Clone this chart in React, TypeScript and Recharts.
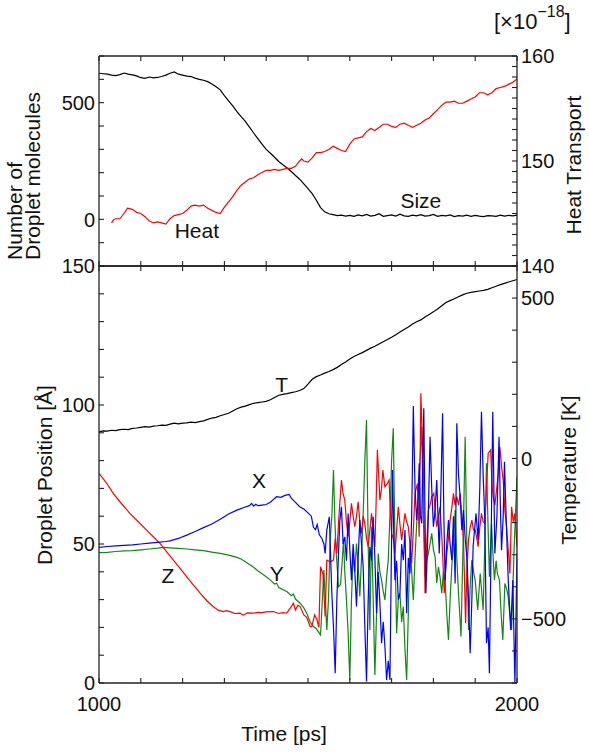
import React from "react";
import { LineChart, Line, XAxis, YAxis, ReferenceDot, Label } from "recharts";

const W = 589;
const H = 755;
const FONT = "'Liberation Sans', Arial, sans-serif";
const TICK_FONT = 20;
const TITLE_FONT = 21;
const AXIS = "#222";

// axis ticks
const timeTicks = [1000, 1100, 1200, 1300, 1400, 1500, 1600, 1700, 1800, 1900, 2000];
const timeLabels = [1000, 2000];
const sizeTicks = [-200, -100, 0, 100, 200, 300, 400, 500, 600, 700];
const sizeLabels = [0, 500];
const heatTicks = [140, 141, 142, 143, 144, 145, 146, 147, 148, 149, 150, 151, 152, 153, 154, 155, 156, 157, 158, 159, 160];
const heatLabels = [140, 150, 160];
const posTicks = [0, 10, 20, 30, 40, 50, 60, 70, 80, 90, 100, 110, 120, 130, 140, 150];
const posLabels = [0, 50, 100, 150];
const tempTicks = [-700, -600, -500, -400, -300, -200, -100, 0, 100, 200, 300, 400, 500, 600];
const tempLabels = [-500, 0, 500];

// droplet size [molecules] vs time [ps]
const sizeSeries: [number, number][] = [
  [1000, 626], [1010, 624], [1020, 622], [1030, 618], [1040, 616], [1050, 620], [1060, 627], [1070, 622],
  [1080, 619], [1090, 615], [1100, 607], [1110, 604], [1120, 610], [1130, 606], [1140, 608], [1150, 612],
  [1160, 618], [1170, 626], [1180, 632], [1190, 622], [1200, 618], [1210, 614], [1220, 612], [1230, 605],
  [1240, 600], [1250, 596], [1260, 590], [1270, 580], [1280, 568], [1290, 555], [1300, 530], [1310, 508],
  [1320, 486], [1330, 462], [1340, 440], [1350, 420], [1360, 395], [1370, 370], [1380, 346], [1390, 322],
  [1400, 300], [1410, 283], [1420, 266], [1430, 248], [1440, 234], [1450, 220], [1460, 205], [1470, 188],
  [1480, 172], [1490, 152], [1500, 132], [1510, 110], [1520, 82], [1530, 50], [1540, 32], [1550, 24],
  [1560, 20], [1570, 16], [1580, 18], [1590, 14], [1600, 17], [1610, 13], [1620, 19], [1630, 15],
  [1640, 21], [1650, 14], [1660, 17], [1670, 24], [1680, 13], [1690, 16], [1700, 19], [1710, 14],
  [1720, 22], [1730, 15], [1740, 13], [1750, 18], [1760, 15], [1770, 20], [1780, 14], [1790, 16],
  [1800, 21], [1810, 13], [1820, 17], [1830, 15], [1840, 19], [1850, 12], [1860, 16], [1870, 14],
  [1880, 18], [1890, 13], [1900, 17], [1910, 14], [1920, 12], [1930, 16], [1940, 15], [1950, 13],
  [1960, 18], [1970, 14], [1980, 17], [1990, 15], [2000, 18],
];

// heat transport [x1e-18]
const heatSeries: [number, number][] = [
  [1030, 144.1], [1035, 144.4], [1040, 144.5], [1050, 144.5], [1060, 145.0], [1068, 145.5], [1080, 145.4],
  [1090, 145.1], [1100, 145.0], [1110, 144.7], [1120, 144.3], [1130, 144.1], [1140, 144.2], [1150, 144.1],
  [1160, 144.0], [1170, 144.5], [1180, 144.8], [1190, 144.9], [1200, 145.0], [1210, 145.3], [1220, 145.7],
  [1230, 145.8], [1240, 145.7], [1250, 145.8], [1260, 145.5], [1270, 145.3], [1280, 145.1], [1290, 145.0],
  [1300, 145.6], [1310, 146.1], [1320, 146.6], [1330, 147.2], [1340, 147.7], [1350, 148.0], [1360, 148.3],
  [1370, 148.4], [1380, 148.7], [1390, 148.9], [1400, 149.1], [1410, 149.1], [1420, 149.2], [1430, 149.1],
  [1440, 149.2], [1450, 149.3], [1460, 149.3], [1470, 149.5], [1480, 150.0], [1485, 150.2], [1490, 150.0],
  [1500, 149.9], [1510, 150.3], [1520, 150.8], [1530, 150.8], [1540, 150.9], [1550, 151.1], [1560, 151.4],
  [1570, 151.2], [1580, 151.0], [1590, 150.9], [1600, 151.6], [1610, 152.1], [1620, 152.2], [1630, 152.3],
  [1640, 152.8], [1650, 153.1], [1660, 152.9], [1670, 153.2], [1680, 153.5], [1690, 153.5], [1700, 153.3],
  [1710, 153.2], [1720, 153.5], [1730, 153.6], [1740, 153.4], [1750, 153.2], [1760, 153.4], [1770, 153.6],
  [1780, 153.9], [1790, 154.1], [1800, 154.5], [1810, 154.9], [1820, 155.3], [1830, 155.6], [1840, 155.6],
  [1850, 155.7], [1860, 155.5], [1870, 155.5], [1880, 155.7], [1890, 155.9], [1900, 156.1], [1910, 156.5],
  [1920, 156.5], [1930, 156.3], [1940, 156.5], [1950, 156.9], [1960, 157.0], [1970, 157.1], [1980, 157.3],
  [1990, 157.5], [2000, 157.8],
];

// temperature [K]
const tempSeries: [number, number][] = [
  [1000, 83], [1010, 86], [1020, 85], [1030, 88], [1040, 87], [1050, 90], [1060, 91], [1070, 90],
  [1080, 94], [1090, 95], [1100, 97], [1110, 99], [1120, 98], [1130, 101], [1140, 102], [1150, 104],
  [1160, 103], [1170, 107], [1180, 110], [1190, 108], [1200, 110], [1210, 111], [1220, 113], [1230, 112],
  [1240, 115], [1250, 117], [1260, 122], [1270, 126], [1280, 128], [1290, 133], [1300, 137], [1310, 141],
  [1320, 148], [1330, 155], [1340, 160], [1350, 163], [1360, 168], [1370, 172], [1380, 174], [1390, 176],
  [1400, 178], [1410, 183], [1420, 190], [1430, 197], [1440, 200], [1450, 202], [1460, 205], [1470, 208],
  [1480, 212], [1490, 218], [1500, 232], [1510, 247], [1520, 255], [1530, 260], [1540, 266], [1550, 271],
  [1560, 277], [1570, 284], [1580, 293], [1590, 301], [1600, 310], [1610, 318], [1620, 324], [1630, 330],
  [1640, 337], [1650, 344], [1660, 350], [1670, 357], [1680, 364], [1690, 371], [1700, 378], [1710, 386],
  [1720, 394], [1730, 402], [1740, 410], [1750, 419], [1760, 426], [1770, 432], [1780, 441], [1790, 449],
  [1800, 457], [1810, 466], [1820, 476], [1830, 486], [1840, 492], [1850, 498], [1860, 504], [1870, 510],
  [1880, 515], [1890, 518], [1900, 520], [1910, 522], [1920, 524], [1930, 527], [1940, 532], [1950, 537],
  [1960, 542], [1970, 546], [1980, 550], [1990, 554], [2000, 558],
];

// droplet centre of mass [Å]
const xSeries: [number, number][] = [
  [1000, 48.8], [1020, 49.1], [1040, 49.3], [1060, 49.5], [1080, 49.7], [1100, 50.0], [1120, 50.3], [1140, 50.6],
  [1160, 50.9], [1170, 51.1], [1190, 52.0], [1210, 53.2], [1230, 54.5], [1250, 55.9], [1270, 57.2], [1290, 58.9],
  [1310, 60.8], [1330, 62.2], [1350, 63.3], [1360, 63.8], [1365, 64.6], [1370, 63.6], [1375, 64.3], [1380, 63.8],
  [1390, 64.0], [1400, 64.2], [1410, 65.0], [1420, 66.4], [1425, 67.0], [1435, 66.8], [1445, 67.5], [1455, 67.8],
  [1460, 66.5], [1470, 65.0], [1480, 63.4], [1490, 62.6], [1500, 61.2], [1508, 60.0], [1513, 56.0], [1518, 55.2],
  [1522, 57.0], [1527, 53.4], [1533, 52.0], [1538, 50.0], [1541, 46.6], [1545, 55.0], [1551, 59.8], [1557, 32.3],
  [1561, 20.0], [1565, 3.5], [1569, 30.0], [1573, 46.6], [1576, 58.0], [1580, 63.4], [1584, 50.0], [1588, 52.6],
  [1592, 44.0], [1596, 61.0], [1600, 48.0], [1604, 37.0], [1608, 50.0], [1612, 40.0], [1616, 27.5], [1620, 45.0],
  [1624, 58.6], [1628, 50.0], [1632, 41.8], [1636, 20.0], [1640, 0.5], [1644, 30.0], [1648, 49.0], [1652, 44.0],
  [1656, 59.8], [1660, 45.0], [1664, 25.1], [1668, 40.0], [1672, 28.7], [1676, 14.3], [1680, 22.0], [1684, 13.1],
  [1688, 1.1], [1692, 8.0], [1696, 1.1], [1699, 40.0], [1702, 76.6], [1705, 55.0], [1708, 37.0], [1712, 44.0],
  [1716, 30.0], [1720, 32.3], [1724, 50.0], [1728, 44.2], [1732, 55.0], [1736, 25.1], [1740, 45.0], [1744, 39.4],
  [1748, 60.0], [1752, 99.6], [1756, 70.0], [1760, 58.6], [1763, 65.0], [1766, 79.0], [1769, 60.0], [1772, 57.4],
  [1777, 98.8], [1782, 32.3], [1787, 55.0], [1792, 88.6], [1796, 70.0], [1800, 56.2], [1804, 62.0], [1808, 73.0],
  [1811, 60.0], [1814, 46.6], [1818, 70.0], [1822, 97.0], [1825, 60.0], [1828, 37.0], [1832, 50.0], [1836, 58.6],
  [1840, 50.0], [1844, 44.2], [1848, 60.0], [1852, 35.8], [1856, 93.4], [1860, 75.0], [1864, 67.0], [1868, 55.0],
  [1872, 62.2], [1876, 52.0], [1880, 45.4], [1884, 30.0], [1888, 10.7], [1892, 30.0], [1895, 49.0], [1899, 56.0],
  [1902, 61.0], [1907, 51.4], [1911, 70.0], [1915, 97.6], [1919, 75.0], [1923, 58.6], [1927, 14.3], [1931, 20.0],
  [1934, 3.5], [1938, 50.0], [1942, 97.6], [1947, 46.6], [1952, 60.0], [1957, 88.6], [1960, 65.0], [1963, 47.8],
  [1967, 60.0], [1970, 79.6], [1975, 55.0], [1979, 37.0], [1985, 19.1], [1990, 37.0], [1995, 0.0], [2000, 46.6],
];

const ySeries: [number, number][] = [
  [1000, 46.9], [1020, 47.0], [1040, 47.3], [1060, 47.5], [1080, 47.6], [1100, 47.9], [1120, 48.2], [1140, 48.5],
  [1155, 48.8], [1170, 48.6], [1190, 48.4], [1210, 48.2], [1230, 47.9], [1250, 47.6], [1270, 47.1], [1290, 46.6],
  [1310, 46.0], [1330, 45.2], [1340, 44.6], [1350, 43.6], [1360, 42.6], [1370, 41.6], [1380, 40.4], [1390, 39.3],
  [1400, 38.2], [1410, 37.0], [1420, 35.6], [1425, 35.9], [1430, 34.3], [1440, 33.6], [1450, 32.8], [1460, 31.4],
  [1465, 32.0], [1470, 30.2], [1481, 28.7], [1490, 27.0], [1497, 25.1], [1505, 22.0], [1513, 20.3], [1520, 19.5],
  [1530, 17.3], [1538, 40.6], [1545, 19.1], [1549, 30.0], [1553, 51.4], [1557, 60.0], [1561, 76.6], [1564, 60.0],
  [1567, 48.0], [1573, 34.6], [1578, 35.5], [1581, 42.0], [1585, 51.4], [1588, 40.0], [1592, 29.9], [1596, 18.0],
  [1600, 1.1], [1604, 30.0], [1608, 46.6], [1612, 40.0], [1616, 50.2], [1620, 42.0], [1624, 31.1], [1628, 45.0],
  [1632, 61.0], [1636, 80.0], [1640, 94.6], [1644, 50.0], [1648, 19.1], [1652, 56.2], [1656, 30.0], [1660, 2.9],
  [1664, 25.0], [1668, 46.6], [1672, 40.0], [1676, 37.0], [1680, 33.0], [1684, 29.9], [1688, 38.0], [1692, 44.2],
  [1696, 60.0], [1700, 80.0], [1704, 91.6], [1708, 50.0], [1712, 17.9], [1716, 30.0], [1720, 32.3], [1724, 22.0],
  [1728, 27.5], [1732, 12.0], [1736, 1.1], [1740, 25.0], [1744, 51.4], [1748, 40.0], [1752, 29.9], [1756, 45.0],
  [1760, 57.4], [1766, 74.2], [1772, 92.2], [1776, 60.0], [1780, 38.2], [1784, 44.0], [1788, 46.6], [1792, 50.0],
  [1796, 53.8], [1800, 48.0], [1804, 45.4], [1808, 36.0], [1812, 41.8], [1816, 38.0], [1820, 32.3], [1824, 40.0],
  [1828, 37.0], [1832, 25.0], [1836, 15.5], [1840, 30.0], [1844, 41.8], [1848, 50.0], [1852, 62.2], [1856, 45.0],
  [1860, 32.3], [1863, 25.0], [1866, 16.7], [1871, 50.0], [1876, 88.6], [1880, 50.0], [1884, 19.1], [1888, 35.0],
  [1892, 44.2], [1896, 40.0], [1900, 37.0], [1906, 26.3], [1912, 39.4], [1919, 26.3], [1923, 50.0], [1927, 79.0],
  [1931, 55.0], [1934, 38.2], [1939, 57.4], [1943, 45.0], [1946, 37.0], [1950, 44.0], [1953, 39.4], [1958, 37.0],
  [1962, 25.0], [1966, 15.5], [1971, 35.8], [1975, 34.0], [1979, 31.1], [1983, 24.0], [1987, 19.1], [1993, 47.8],
  [2000, 74.2],
];

const zSeries: [number, number][] = [
  [1000, 75.4], [1010, 73.5], [1020, 71.5], [1034, 68.2], [1050, 65.2], [1074, 61.0], [1094, 58.0], [1114, 55.0],
  [1130, 52.6], [1146, 50.2], [1162, 47.2], [1178, 44.2], [1194, 41.2], [1210, 38.2], [1226, 35.2], [1242, 32.3],
  [1258, 29.6], [1273, 27.5], [1285, 26.2], [1297, 25.7], [1305, 26.0], [1315, 25.6], [1325, 25.0], [1337, 25.1],
  [1345, 24.4], [1355, 25.2], [1369, 25.1], [1380, 25.4], [1390, 25.3], [1400, 25.6], [1417, 25.7], [1430, 25.0],
  [1440, 25.3], [1449, 25.1], [1458, 27.0], [1465, 28.7], [1470, 26.3], [1476, 28.0], [1481, 27.5], [1490, 24.5],
  [1497, 23.6], [1505, 20.3], [1509, 20.3], [1516, 24.5], [1521, 23.0], [1526, 20.0], [1530, 41.8], [1536, 39.0],
  [1541, 23.9], [1545, 44.2], [1553, 43.6], [1561, 44.2], [1565, 52.0], [1569, 46.6], [1574, 60.0], [1580, 73.0],
  [1584, 68.0], [1588, 65.8], [1592, 58.0], [1596, 52.6], [1600, 58.0], [1604, 64.6], [1608, 60.0], [1612, 56.2],
  [1616, 60.0], [1620, 65.2], [1624, 58.0], [1628, 53.8], [1632, 60.0], [1636, 57.4], [1640, 52.0], [1644, 49.0],
  [1648, 55.0], [1652, 61.0], [1656, 55.0], [1660, 49.0], [1663, 65.0], [1666, 83.8], [1669, 75.0], [1672, 65.8],
  [1676, 70.0], [1679, 76.6], [1684, 70.6], [1690, 71.8], [1694, 73.0], [1697, 62.0], [1700, 53.8], [1704, 52.0],
  [1708, 46.6], [1712, 55.0], [1716, 63.4], [1720, 57.0], [1724, 51.4], [1728, 56.0], [1732, 61.0], [1736, 58.0],
  [1740, 56.2], [1744, 50.0], [1748, 43.0], [1752, 55.0], [1756, 68.2], [1762, 71.8], [1766, 52.6], [1770, 104.2],
  [1773, 90.0], [1776, 75.4], [1780, 32.3], [1784, 50.0], [1788, 62.2], [1792, 64.0], [1796, 67.0], [1801, 68.2],
  [1804, 62.0], [1808, 56.2], [1812, 60.0], [1816, 63.4], [1821, 50.0], [1826, 32.3], [1829, 40.0], [1832, 46.6],
  [1836, 52.0], [1840, 58.6], [1844, 63.0], [1848, 68.2], [1852, 64.0], [1856, 67.0], [1860, 64.0], [1864, 68.2],
  [1868, 60.0], [1872, 51.4], [1877, 21.5], [1880, 40.0], [1884, 51.4], [1888, 56.0], [1892, 58.6], [1896, 55.0],
  [1900, 55.0], [1904, 52.0], [1907, 49.0], [1911, 56.0], [1915, 61.0], [1919, 58.0], [1923, 57.4], [1927, 70.0],
  [1931, 82.6], [1937, 83.8], [1940, 72.0], [1943, 67.0], [1947, 64.0], [1951, 69.4], [1955, 75.0], [1959, 85.0],
  [1963, 78.0], [1967, 73.0], [1971, 62.0], [1975, 56.2], [1979, 48.0], [1983, 39.4], [1987, 63.4], [1991, 58.0],
  [1995, 61.0], [2000, 49.0],
];

const rows = (pts: [number, number][]) => pts.map(([t, v]) => ({ t, v }));

const fmt = (v: number) => (v < 0 ? `\u2212${Math.abs(v)}` : `${v}`);

// tick text only on the labelled values, minor ticks keep just their line
const sideTick = (labels: number[], anchor: "start" | "end") => (props: any) => {
  const { x, y, payload } = props;
  if (!labels.includes(payload.value)) return <g />;
  return (
    <text x={x} y={y} dy="0.36em" textAnchor={anchor} fontSize={TICK_FONT} fontFamily={FONT} fill="#111">
      {fmt(payload.value)}
    </text>
  );
};

const bottomTick = (labels: number[]) => (props: any) => {
  const { x, y, payload } = props;
  if (!labels.includes(payload.value)) return <g />;
  return (
    <text x={x} y={y} dy="0.36em" textAnchor="middle" fontSize={TICK_FONT} fontFamily={FONT} fill="#111">
      {payload.value}
    </text>
  );
};

const noTick = () => <g />;

const axisLine = { stroke: AXIS, strokeWidth: 1.3 };
const tickLine = { stroke: AXIS, strokeWidth: 1.1 };

const tag = (text: string) => (
  <Label value={text} position="center" fontSize={TITLE_FONT} fontFamily={FONT} fill="#111" />
);

export default function App() {
  return (
    <div style={{ position: "absolute", left: 0, top: 0, width: W, height: H, background: "#fff" }}>
      {/* upper panel: droplet size and heat transport */}
      <div style={{ position: "absolute", left: 0, top: 0 }}>
        <LineChart width={W} height={H} margin={{ top: 46, right: 0, bottom: H - 276, left: 0 }}>
          <XAxis xAxisId="time" type="number" dataKey="t" domain={[1000, 2000]} ticks={timeTicks} interval={0}
            allowDataOverflow height={10} tickSize={-5} tick={noTick} axisLine={axisLine} tickLine={tickLine} />
          <XAxis xAxisId="top" orientation="top" type="number" dataKey="t" domain={[1000, 2000]} ticks={timeTicks}
            interval={0} allowDataOverflow height={10} tickSize={-5} tick={noTick} axisLine={axisLine} tickLine={tickLine} />
          <YAxis yAxisId="size" type="number" domain={[-200, 700]} ticks={sizeTicks} interval={0} width={99}
            tickSize={-5} tickMargin={9} tick={sideTick(sizeLabels, "end")} axisLine={axisLine} tickLine={tickLine} />
          <YAxis yAxisId="heat" orientation="right" type="number" domain={[140, 160]} ticks={heatTicks} interval={0}
            width={72} tickSize={-5} tickMargin={9} tick={sideTick(heatLabels, "start")} axisLine={axisLine} tickLine={tickLine} />
          <Line xAxisId="time" yAxisId="size" data={rows(sizeSeries)} dataKey="v" stroke="#000" strokeWidth={1.2}
            dot={false} isAnimationActive={false} />
          <Line xAxisId="time" yAxisId="heat" data={rows(heatSeries)} dataKey="v" stroke="#ff0000" strokeWidth={1.2}
            dot={false} isAnimationActive={false} />
          <ReferenceDot xAxisId="time" yAxisId="size" x={1234} y={-49} r={0} fill="none" stroke="none">{tag("Heat")}</ReferenceDot>
          <ReferenceDot xAxisId="time" yAxisId="size" x={1770} y={80} r={0} fill="none" stroke="none">{tag("Size")}</ReferenceDot>
        </LineChart>
      </div>
      {/* lower panel: droplet position and temperature */}
      <div style={{ position: "absolute", left: 0, top: 0 }}>
        <LineChart width={W} height={H} margin={{ top: 256, right: 0, bottom: H - 723, left: 0 }}>
          <XAxis xAxisId="time" type="number" dataKey="t" domain={[1000, 2000]} ticks={timeTicks} interval={0}
            allowDataOverflow height={40} tickSize={-5} tickMargin={26} tick={bottomTick(timeLabels)} axisLine={axisLine} tickLine={tickLine} />
          <XAxis xAxisId="top" orientation="top" type="number" dataKey="t" domain={[1000, 2000]} ticks={timeTicks}
            interval={0} allowDataOverflow height={10} tickSize={-5} tick={noTick} axisLine={axisLine} tickLine={tickLine} />
          <YAxis yAxisId="pos" type="number" domain={[0, 150]} ticks={posTicks} interval={0} width={99}
            tickSize={-5} tickMargin={9} tick={sideTick(posLabels, "end")} axisLine={axisLine} tickLine={tickLine} />
          <YAxis yAxisId="temp" orientation="right" type="number" domain={[-700, 600]} ticks={tempTicks} interval={0}
            width={72} tickSize={-5} tickMargin={9} tick={sideTick(tempLabels, "start")} axisLine={axisLine} tickLine={tickLine} />
          <Line xAxisId="time" yAxisId="temp" data={rows(tempSeries)} dataKey="v" stroke="#000" strokeWidth={1.2}
            dot={false} isAnimationActive={false} />
          <Line xAxisId="time" yAxisId="pos" data={rows(ySeries)} dataKey="v" stroke="#118811" strokeWidth={1.2}
            dot={false} isAnimationActive={false} />
          <Line xAxisId="time" yAxisId="pos" data={rows(zSeries)} dataKey="v" stroke="#ff0000" strokeWidth={1.2}
            dot={false} isAnimationActive={false} />
          <Line xAxisId="time" yAxisId="pos" data={rows(xSeries)} dataKey="v" stroke="#0000ff" strokeWidth={1.2}
            dot={false} isAnimationActive={false} />
          <ReferenceDot xAxisId="time" yAxisId="pos" x={1437} y={107.5} r={0} fill="none" stroke="none">{tag("T")}</ReferenceDot>
          <ReferenceDot xAxisId="time" yAxisId="pos" x={1383} y={73} r={0} fill="none" stroke="none">{tag("X")}</ReferenceDot>
          <ReferenceDot xAxisId="time" yAxisId="pos" x={1165} y={38.5} r={0} fill="none" stroke="none">{tag("Z")}</ReferenceDot>
          <ReferenceDot xAxisId="time" yAxisId="pos" x={1425} y={39.2} r={0} fill="none" stroke="none">{tag("Y")}</ReferenceDot>
        </LineChart>
      </div>
      {/* axis titles */}
      <svg width={W} height={H} style={{ position: "absolute", left: 0, top: 0, pointerEvents: "none" }}
        fontFamily={FONT} fontSize={TITLE_FONT} fill="#111">
        <text transform="translate(22,260) rotate(-90)" textAnchor="start">Number of</text>
        <text transform="translate(40,260) rotate(-90)" textAnchor="start">Droplet molecules</text>
        <text transform="translate(581,165) rotate(-90)" textAnchor="middle">Heat Transport</text>
        <text transform="translate(52,475) rotate(-90)" textAnchor="middle">Droplet Position [Å]</text>
        <text transform="translate(576,470) rotate(-90)" textAnchor="middle">Temperature [K]</text>
        <text x={284} y={741} textAnchor="middle">Time [ps]</text>
        <text x={494} y={29} fontSize={22}>[×10<tspan dy={-12} fontSize={16}>−18</tspan><tspan dy={12}>]</tspan></text>
      </svg>
    </div>
  );
}
